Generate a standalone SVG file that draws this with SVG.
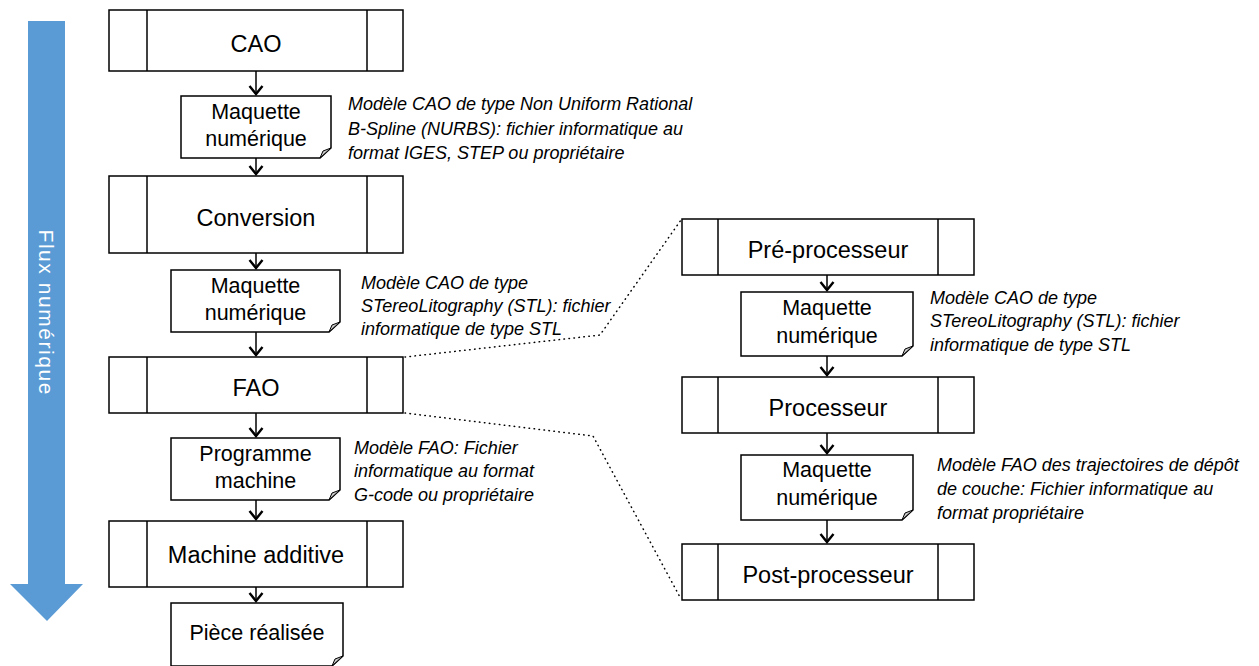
<svg xmlns="http://www.w3.org/2000/svg" width="1259" height="666" viewBox="0 0 1259 666">
<style>
.box{fill:#fff;stroke:#000;stroke-width:1.5}
.sep{stroke:#000;stroke-width:1.5}
.doc{fill:#fff;stroke:#000;stroke-width:1.5;stroke-linejoin:miter}
.fold{fill:#c8c8c8;stroke:#000;stroke-width:1}
.bt{font-family:"Liberation Sans",Arial,sans-serif;font-size:23.5px;fill:#000;text-anchor:middle}
.dt{font-family:"Liberation Sans",Arial,sans-serif;font-size:21.5px;fill:#000;text-anchor:middle}
.an{font-family:"Liberation Sans",Arial,sans-serif;font-size:18px;font-style:italic;fill:#000}
.con{stroke:#000;stroke-width:1.5;fill:none;marker-end:url(#ah)}
.dot{stroke:#000;stroke-width:1.5;fill:none;stroke-dasharray:0.5 4.5;stroke-linecap:round}
</style>
<defs>
<marker id="ah" markerUnits="userSpaceOnUse" viewBox="-11 -9 13 18" refX="0" refY="0" markerWidth="13" markerHeight="18" orient="auto">
<path d="M-8,-6.5 L0,0 L-8,6.5" fill="none" stroke="#000" stroke-width="2.4"/>
</marker>
</defs>

<g id="flux">
<polygon points="28,21 65,21 65,584 83,584 47,621 10,584 28,584" fill="#5B9BD5"/>
<text transform="translate(39,312) rotate(90)" font-family="'Liberation Sans',Arial,sans-serif" font-size="21" fill="#fff" text-anchor="middle" textLength="165">Flux numérique</text>
</g>

<g id="connectors">
<line class="con" x1="256" y1="71" x2="256" y2="94"/>
<line class="con" x1="256" y1="158" x2="256" y2="174"/>
<line class="con" x1="256" y1="253" x2="256" y2="268"/>
<line class="con" x1="256" y1="332" x2="256" y2="355"/>
<line class="con" x1="256" y1="413" x2="256" y2="436"/>
<line class="con" x1="256" y1="500" x2="256" y2="519"/>
<line class="con" x1="256" y1="587" x2="256" y2="601"/>
<line class="con" x1="827" y1="275" x2="827" y2="290"/>
<line class="con" x1="827" y1="356" x2="827" y2="375"/>
<line class="con" x1="827" y1="433" x2="827" y2="453"/>
<line class="con" x1="827" y1="520" x2="827" y2="542"/>
<polyline class="dot" points="405,357 600,335 681,220"/>
<polyline class="dot" points="405,413 593,436 681,599"/>
</g>

<g id="cao">
<rect class="box" x="109" y="10" width="294" height="61"/>
<line class="sep" x1="147" y1="10" x2="147" y2="71"/>
<line class="sep" x1="367" y1="10" x2="367" y2="71"/>
<text class="bt" x="256" y="52">CAO</text>
</g>

<g id="maquette1">
<path class="doc" d="M181,96 H331 V148 L320,158 H181 Z"/>
<polygon class="fold" points="331,148 323,151 320,158"/>
<text class="dt" x="256" y="119">Maquette</text>
<text class="dt" x="256" y="146">numérique</text>
</g>
<g id="note1">
<text class="an" x="348" y="110">Modèle CAO de type Non Uniform Rational</text>
<text class="an" x="348" y="135">B-Spline (NURBS): fichier informatique au</text>
<text class="an" x="348" y="159">format IGES, STEP ou propriétaire</text>
</g>

<g id="conversion">
<rect class="box" x="109" y="176" width="294" height="77"/>
<line class="sep" x1="147" y1="176" x2="147" y2="253"/>
<line class="sep" x1="367" y1="176" x2="367" y2="253"/>
<text class="bt" x="256" y="226">Conversion</text>
</g>

<g id="maquette2">
<path class="doc" d="M171,270 H340 V322 L329,332 H171 Z"/>
<polygon class="fold" points="340,322 332,325 329,332"/>
<text class="dt" x="255.5" y="293">Maquette</text>
<text class="dt" x="255.5" y="320">numérique</text>
</g>
<g id="note2">
<text class="an" x="361" y="289">Modèle CAO de type</text>
<text class="an" x="361" y="312">STereoLitography (STL): fichier</text>
<text class="an" x="361" y="335">informatique de type STL</text>
</g>

<g id="fao">
<rect class="box" x="109" y="357" width="294" height="56"/>
<line class="sep" x1="147" y1="357" x2="147" y2="413"/>
<line class="sep" x1="367" y1="357" x2="367" y2="413"/>
<text class="bt" x="256" y="396">FAO</text>
</g>

<g id="programme">
<path class="doc" d="M171,438 H340 V490 L329,500 H171 Z"/>
<polygon class="fold" points="340,490 332,493 329,500"/>
<text class="dt" x="255.5" y="461">Programme</text>
<text class="dt" x="255.5" y="488">machine</text>
</g>
<g id="note3">
<text class="an" x="354" y="454">Modèle FAO: Fichier</text>
<text class="an" x="354" y="477">informatique au format</text>
<text class="an" x="354" y="501">G-code ou propriétaire</text>
</g>

<g id="machine">
<rect class="box" x="109" y="521" width="294" height="66"/>
<line class="sep" x1="147" y1="521" x2="147" y2="587"/>
<line class="sep" x1="367" y1="521" x2="367" y2="587"/>
<text class="bt" x="256" y="563">Machine additive</text>
</g>

<g id="piece">
<path class="doc" d="M171,603 H343 V656 L332,666 H171 Z"/>
<polygon class="fold" points="343,656 335,659 332,666"/>
<text class="dt" x="257" y="640">Pièce réalisée</text>
</g>

<g id="preprocesseur">
<rect class="box" x="682" y="219" width="292" height="56"/>
<line class="sep" x1="718" y1="219" x2="718" y2="275"/>
<line class="sep" x1="938" y1="219" x2="938" y2="275"/>
<text class="bt" x="828" y="258">Pré-processeur</text>
</g>

<g id="maquette3">
<path class="doc" d="M741,292 H913 V346 L902,356 H741 Z"/>
<polygon class="fold" points="913,346 905,349 902,356"/>
<text class="dt" x="827" y="315">Maquette</text>
<text class="dt" x="827" y="343">numérique</text>
</g>
<g id="note4">
<text class="an" x="930" y="304">Modèle CAO de type</text>
<text class="an" x="930" y="327">STereoLitography (STL): fichier</text>
<text class="an" x="930" y="351">informatique de type STL</text>
</g>

<g id="processeur">
<rect class="box" x="682" y="377" width="292" height="56"/>
<line class="sep" x1="718" y1="377" x2="718" y2="433"/>
<line class="sep" x1="938" y1="377" x2="938" y2="433"/>
<text class="bt" x="828" y="416">Processeur</text>
</g>

<g id="maquette4">
<path class="doc" d="M741,455 H913 V510 L902,520 H741 Z"/>
<polygon class="fold" points="913,510 905,513 902,520"/>
<text class="dt" x="827" y="477">Maquette</text>
<text class="dt" x="827" y="505">numérique</text>
</g>
<g id="note5">
<text class="an" x="937" y="471">Modèle FAO des trajectoires de dépôt</text>
<text class="an" x="937" y="495">de couche: Fichier informatique au</text>
<text class="an" x="937" y="519">format propriétaire</text>
</g>

<g id="postprocesseur">
<rect class="box" x="682" y="544" width="292" height="56"/>
<line class="sep" x1="938" y1="544" x2="938" y2="600"/>
<line class="sep" x1="718" y1="544" x2="718" y2="600"/>
<text class="bt" x="828" y="583">Post-processeur</text>
</g>
</svg>
